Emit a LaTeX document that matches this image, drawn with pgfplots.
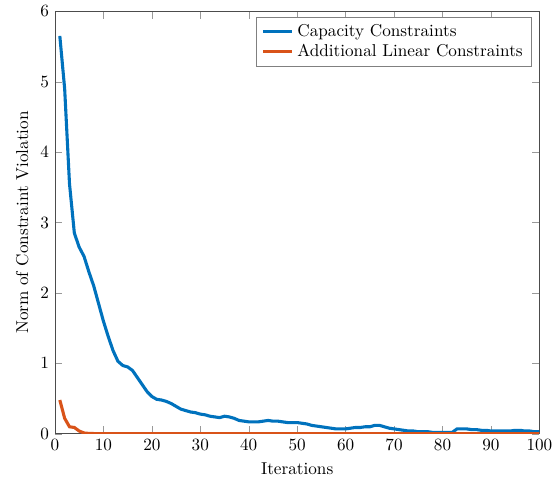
\documentclass[border=0pt]{standalone}
\usepackage{pgfplots}
\pgfplotsset{compat=1.18}
\definecolor{mblue}{rgb}{0,0.447,0.741}
\definecolor{morange}{rgb}{0.85,0.325,0.098}
\begin{document}
\begin{tikzpicture}
\begin{axis}[
  scale only axis,
  width=282pt, height=246pt,
  xmin=0, xmax=100, ymin=0, ymax=6,
  xtick={0,10,...,100}, ytick={0,1,...,6},
  xlabel={Iterations},
  ylabel={Norm of Constraint Violation},
  axis line style={black!70},
  tick style={black!40},
  tick align=inside,
  legend style={at={(0.984,0.986)}, anchor=north east, draw=black!50, legend cell align=left, row sep=-1pt},
  every axis plot/.append style={line width=1.8pt},
]
\addplot[mblue] coordinates {
(1,5.65)(2,4.9)(3,3.55)(4,2.85)(5,2.65)(6,2.52)(7,2.3)(8,2.1)(9,1.85)(10,1.6)
(11,1.38)(12,1.18)(13,1.03)(14,0.97)(15,0.95)(16,0.9)(17,0.8)(18,0.7)(19,0.6)(20,0.53)
(21,0.49)(22,0.48)(23,0.46)(24,0.43)(25,0.39)(26,0.35)(27,0.33)(28,0.31)(29,0.3)(30,0.28)
(31,0.27)(32,0.25)(33,0.24)(34,0.23)(35,0.25)(36,0.24)(37,0.22)(38,0.19)(39,0.18)(40,0.17)
(41,0.17)(42,0.17)(43,0.18)(44,0.19)(45,0.18)(46,0.18)(47,0.17)(48,0.16)(49,0.16)(50,0.16)
(51,0.15)(52,0.14)(53,0.12)(54,0.11)(55,0.1)(56,0.09)(57,0.08)(58,0.07)(59,0.07)(60,0.07)
(61,0.08)(62,0.09)(63,0.09)(64,0.1)(65,0.1)(66,0.12)(67,0.12)(68,0.1)(69,0.08)(70,0.07)
(71,0.06)(72,0.05)(73,0.04)(74,0.04)(75,0.03)(76,0.03)(77,0.03)(78,0.02)(79,0.02)(80,0.02)
(81,0.02)(82,0.02)(83,0.07)(84,0.07)(85,0.07)(86,0.06)(87,0.06)(88,0.05)(89,0.05)(90,0.04)
(91,0.04)(92,0.04)(93,0.04)(94,0.04)(95,0.05)(96,0.05)(97,0.04)(98,0.04)(99,0.03)(100,0.03)
};
\addlegendentry{Capacity Constraints}
\addplot[morange] coordinates {
(1,0.48)(2,0.22)(3,0.1)(4,0.09)(5,0.04)(6,0.012)(7,0.006)(8,0.004)(9,0.003)(10,0.002)
(15,0.001)(20,0.001)(30,0.001)(40,0.001)(50,0.001)(60,0.001)(70,0.001)(80,0.001)(90,0.001)(100,0.001)
};
\addlegendentry{Additional Linear Constraints}
\end{axis}
\path ([xshift=-32pt]current axis.south west) circle (0pt);
\end{tikzpicture}
\end{document}
